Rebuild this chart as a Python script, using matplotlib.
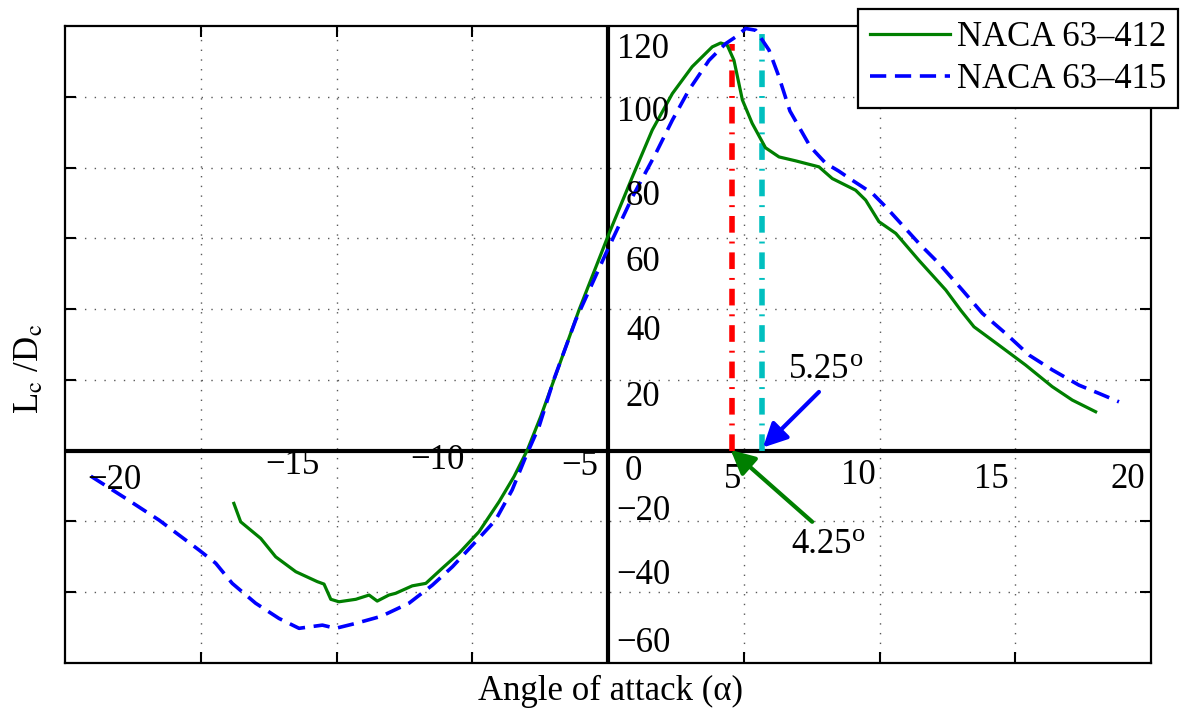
import matplotlib
matplotlib.use("Agg")
import matplotlib.pyplot as plt

plt.rcParams['font.family'] = ['Liberation Serif', 'DejaVu Serif']
plt.rcParams['mathtext.fontset'] = 'stix'

# L/D vs angle of attack
aoa_412 = [-13.78, -13.53, -12.79, -12.24, -11.50, -10.71, -10.46, -10.21, -9.91,
           -9.29, -8.80, -8.50, -8.07, -7.82, -7.21, -6.71, -6.10, -5.49, -4.75,
           -4.01, -3.46, -2.97, -2.48, -1.99, -1.07, 0.04, 0.90, 1.63, 2.37, 3.10,
           3.84, 4.15, 4.39, 4.64, 4.95, 5.31, 5.80, 6.30, 6.91, 7.77, 8.26, 9.12,
           9.49, 9.98, 10.60, 11.45, 12.44, 12.99, 13.48, 14.40, 15.38, 16.36,
           17.10, 17.96]
ld_412 = [-14.9, -20.1, -24.8, -30.0, -34.2, -37.0, -37.7, -42.0, -42.7,
          -42.0, -40.8, -42.5, -40.8, -40.3, -38.2, -37.5, -33.2, -29.0, -22.9,
          -14.4, -7.3, 0.2, 9.6, 20.0, 39.7, 61.4, 77.4, 90.6, 100.9, 108.5,
          114.1, 115.2, 114.6, 110.3, 99.1, 92.5, 85.6, 83.0, 81.9, 80.2, 76.9, 73.6,
          70.8, 64.7, 61.4, 53.8, 45.4, 39.7, 35.0, 29.8, 24.2, 18.1,
          14.3, 11.0]

aoa_415 = [-19.05, -17.76, -16.54, -15.06, -14.45, -13.84, -12.98, -12.12, -11.38,
           -10.52, -10.03, -9.29, -8.35, -7.33, -6.47, -5.73, -4.87, -4.14, -3.53,
           -3.03, -2.54, -2.00, -1.19, -0.08, 0.90, 1.76, 2.37, 2.98, 3.72, 4.33,
           4.70, 5.07, 5.44, 5.93, 6.28, 6.70, 7.45, 8.02, 8.50, 9.00, 9.74, 10.23,
           11.45, 12.19, 13.05, 13.79, 14.65, 15.51, 16.37, 17.35, 18.08, 18.82]
ld_415 = [-7.2, -13.5, -19.6, -28.1, -31.8, -37.5, -43.1, -47.4, -50.2,
          -49.3, -50.2, -48.8, -46.8, -43.1, -38.0, -32.8, -25.7, -19.6, -11.1,
          -1.7, 6.8, 20.0, 36.9, 55.7, 71.7, 84.0, 93.4, 101.9, 110.3, 115.0,
          116.9, 119.3, 118.8, 113.2, 106.0, 96.0, 85.9, 81.2, 79.0, 76.4, 72.7, 68.9,
          58.6, 52.9, 45.4, 38.8, 33.1, 27.0, 22.8, 18.5, 16.2, 13.8]

# marked optimum angles (vertical lines) and their labels
opt_412 = 4.55
opt_412_ld = 115.0
opt_415 = 5.69
opt_415_ld = 118.8

xtick_text = ['−20', '−15', '−10', '−5', '0', '5', '10', '15', '20']
ytick_text = ['120', '100', '80', '60', '40', '20', '−20', '−40', '−60']

# where the (hand placed) tick labels sit, in data units
xlab_x = [-18.19, -11.63, -6.27, -1.04, 0.95, 4.60, 9.21, 14.12, 19.13]
xlab_y = [-8.5, -4.3, -2.7, -4.4, -6.0, -8.2, -7.1, -8.2, -8.2]
ylab_x = 1.3
ylab_y = [113.4, 95.6, 71.9, 53.3, 33.8, 15.1, -17.2, -35.3, -54.6]

W, H = 1184, 715
fig = plt.figure(figsize=(W / 100, H / 100), dpi=100)
ax = fig.add_axes([65 / W, 1 - 663 / H, (1151 - 65) / W, (663 - 26) / H])

ax.set_xlim(-20, 20)
ax.set_ylim(-60, 120)
ax.set_xticks([-15, -10, -5, 5, 10, 15])
ax.set_yticks([-40, -20, 20, 40, 60, 80, 100])
ax.tick_params(direction='in', length=8, width=1.5, top=True, right=True,
               labelbottom=False, labelleft=False)
ax.grid(True, linestyle=(0, (1, 6)), color='0.35', lw=1.0)
for sp in ax.spines.values():
    sp.set_linewidth(1.6)

ax.axhline(0, color='k', lw=3.0, zorder=2)
ax.axvline(0, color='k', lw=3.0, zorder=2)

ax.plot(aoa_412, ld_412, color='#007f00', lw=2.3, label='NACA 63–412', zorder=3)
ax.plot(aoa_415, ld_415, color='#0000ff', lw=2.6, dashes=(4.5, 2.4),
        label='NACA 63–415', zorder=3)

ax.plot([opt_412, opt_412], [0, opt_412_ld], color='#ff0000', lw=4,
        dashes=(3.0, 1.6, 0.35, 1.6), zorder=2.5)
ax.plot([opt_415, opt_415], [0, opt_415_ld], color='#00bfbf', lw=4,
        dashes=(3.0, 1.6, 0.35, 1.6), zorder=2.5)

ax.annotate('', xy=(5.71, 0.9), xytext=(7.77, 16.6),
            arrowprops=dict(arrowstyle='-|>', color='#0000ff', lw=3,
                            mutation_scale=36, shrinkA=0, shrinkB=0), zorder=4)
ax.annotate('', xy=(4.52, 0.2), xytext=(7.52, -20.1),
            arrowprops=dict(arrowstyle='-|>', color='#007f00', lw=3,
                            mutation_scale=36, shrinkA=0, shrinkB=0), zorder=4)

for label, lx, ly in [('5.25', 6.66, 20.5), ('4.25', 6.74, -28.9)]:
    t = ax.text(lx, ly, label, fontsize=25, va='baseline', ha='left')
    # raised small "o" for degrees
    ax.annotate('o', xy=(1, 1), xycoords=t, xytext=(0.5, 3),
                textcoords='offset points', fontsize=19, ha='left', va='top')

for t, x, y in zip(xtick_text, xlab_x, xlab_y):
    ax.text(x, y, t, fontsize=25, ha='center', va='center')
for t, y in zip(ytick_text, ylab_y):
    ax.text(ylab_x, y, t, fontsize=25, ha='center', va='center')

fig.text(610 / W, 1 - 691 / H, 'Angle of attack (α)', fontsize=25,
         ha='center', va='center')
fig.text(30 / W, 1 - 369 / H, r'L$_\mathrm{c}$ /D$_\mathrm{c}$', fontsize=25,
         rotation=90, ha='center', va='center')

leg = ax.legend(loc='upper right', bbox_to_anchor=(1178 / W, 1 - 9 / H),
                bbox_transform=fig.transFigure, borderaxespad=0, fontsize=25,
                handlelength=2.3, handletextpad=0.2, borderpad=0.35,
                labelspacing=0.25, fancybox=False, framealpha=1)
leg.get_frame().set_edgecolor('k')
leg.get_frame().set_linewidth(1.6)

fig.savefig('out.png', dpi=100)
